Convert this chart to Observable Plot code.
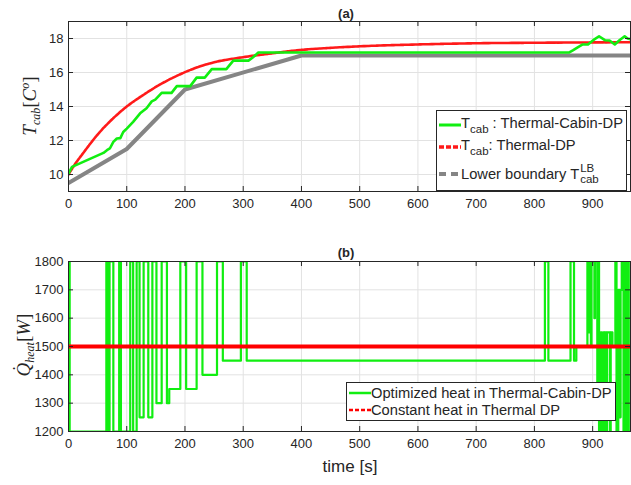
<!DOCTYPE html>
<html><head><meta charset="utf-8">
<script src="https://cdn.jsdelivr.net/npm/d3@7"></script>
<script src="https://cdn.jsdelivr.net/npm/@observablehq/plot@0.6"></script>
<style>
body{margin:0;background:#fff;}
#wrap{position:relative;width:631px;height:485px;overflow:hidden;font-family:"Liberation Sans",Arial,sans-serif;color:#262626;}
.abs{position:absolute;}
.title{font-weight:bold;font-size:13px;transform:translate(-50%,-50%);white-space:nowrap;}
.ylab{font-family:"Liberation Serif","DejaVu Serif",serif;font-size:19px;white-space:nowrap;transform:translate(-50%,-50%) rotate(-90deg);}
.ylab i{font-style:italic;}
.ylab sub{font-size:12px;vertical-align:-4px;}
.ylab sup{font-size:12px;vertical-align:7px;}
.legend{background:#fff;border:1px solid #262626;box-sizing:border-box;}
.row{position:absolute;left:2px;display:flex;align-items:center;white-space:nowrap;font-size:14.7px;color:#262626;}
.row svg{flex:none;}
.row sub{font-size:11.5px;vertical-align:-5px;}
.stack{display:inline-flex;flex-direction:column;font-size:11.5px;line-height:11px;vertical-align:middle;margin-left:1px;}
</style></head>
<body><div id="wrap"></div>
<script>
// ---------- data ----------
const xTicks = [0, 100, 200, 300, 400, 500, 600, 700, 800, 900];
const tempTicks = [10, 12, 14, 16, 18];
const heatTicks = [1200, 1300, 1400, 1500, 1600, 1700, 1800];

// T_cab : Thermal-Cabin-DP (green)
const cabinT = [0, 6, 60, 66, 71, 77, 83, 89, 94, 100, 111, 123, 134, 143, 149, 160, 177, 186, 209, 220, 234, 246, 271, 283, 309, 317, 326, 860, 866, 875, 883, 892, 901, 911, 921, 929, 938, 946, 955, 960, 965];
const cabinV = [10.05, 10.45, 11.27, 11.43, 11.53, 11.92, 12.12, 12.14, 12.5, 12.7, 13.1, 13.6, 13.9, 14.3, 14.4, 14.8, 14.8, 15.2, 15.2, 15.7, 15.7, 16.2, 16.2, 16.7, 16.7, 16.9, 17.18, 17.18, 17.3, 17.49, 17.65, 17.65, 17.9, 18.13, 17.9, 17.88, 17.65, 17.9, 18.13, 18.0, 17.95];

// T_cab : Thermal-DP (red)
const thermT = [0, 10, 25, 50, 75, 100, 125, 150, 175, 200, 225, 250, 300, 350, 400, 450, 500, 600, 700, 800, 900, 965];
const thermV = [10, 10.55, 11.25, 12.35, 13.25, 14.0, 14.6, 15.15, 15.62, 16.02, 16.35, 16.6, 16.9, 17.13, 17.33, 17.45, 17.54, 17.65, 17.72, 17.75, 17.77, 17.78];

// Lower boundary (gray)
const lbT = [0, 100, 200, 400, 965];
const lbV = [9.5, 11.5, 15.0, 17.0, 17.0];

// Optimized heat in Thermal-Cabin-DP (green, step)
const heatT = [0, 2, 65, 66.5, 67.5, 69.5, 70.5, 77, 87, 90, 106, 111, 117, 122, 129, 137, 144, 151, 160, 169, 173, 192, 202, 220, 230, 255, 265, 296, 306, 818, 824, 862, 868, 872, 891, 894, 895, 897, 898, 903, 904, 908, 910, 911, 914, 916, 918, 920, 921, 924, 925, 930, 931, 934, 939, 941, 944, 946, 948, 950, 953, 955, 957, 960, 962, 965];
const heatQ = [1800, 1200, 1800, 1200, 1800, 1200, 1800, 1200, 1800, 1200, 1800, 1200, 1800, 1250, 1800, 1250, 1800, 1300, 1800, 1300, 1350, 1800, 1350, 1800, 1400, 1800, 1450, 1800, 1450, 1800, 1450, 1800, 1450, 1500, 1800, 1550, 1800, 1500, 1800, 1600, 1800, 1350, 1800, 1200, 1550, 1200, 1550, 1200, 1550, 1200, 1550, 1200, 1550, 1500, 1800, 1200, 1700, 1250, 1700, 1800, 1200, 1800, 1200, 1800, 1200, 1200];

// Constant heat in Thermal DP (red)
const constT = [0, 965];
const constQ = [1500, 1500];

// ---------- build ----------
const zip = (a, b) => a.map((t, i) => ({t, v: b[i]}));
const wrap = document.getElementById("wrap");
const W = 631, ML = 68, MR = 1;

function panel({top, height, marginTop, marginBottom, yDomain, yTicks, marks}) {
  const plotH = height - marginTop - marginBottom;
  const plotW = W - ML - MR;
  const tk = 5;
  const svg = Plot.plot({
    width: W, height, marginLeft: ML, marginRight: MR, marginTop, marginBottom,
    style: {fontFamily: "'Liberation Sans', Arial, sans-serif", fontSize: "13px", color: "#262626", background: "transparent", overflow: "visible"},
    x: {domain: [0, 965], ticks: xTicks, label: null},
    y: {domain: yDomain, ticks: yTicks, label: null},
    marks: [
      Plot.gridX(xTicks, {stroke: "#e2e2e2", strokeOpacity: 1, strokeWidth: 1}),
      Plot.gridY(yTicks, {stroke: "#e2e2e2", strokeOpacity: 1, strokeWidth: 1}),
      ...marks,
      Plot.ruleX(xTicks, {x: d => d, insetTop: plotH - tk, stroke: "#262626"}),
      Plot.ruleX(xTicks, {x: d => d, insetBottom: plotH - tk, stroke: "#262626"}),
      Plot.ruleY(yTicks, {y: d => d, insetRight: plotW - tk, stroke: "#262626"}),
      Plot.ruleY(yTicks, {y: d => d, insetLeft: plotW - tk, stroke: "#262626"}),
      Plot.frame({stroke: "#262626", strokeWidth: 1}),
      Plot.axisX(xTicks, {tickSize: 0, tickPadding: 7, fill: "#262626", tickFormat: d => String(d)}),
      Plot.axisY(yTicks, {tickSize: 0, tickPadding: 5, fill: "#262626", tickFormat: d => String(d)})
    ]
  });
  svg.classList.add("abs");
  svg.style.left = "0px";
  svg.style.top = top + "px";
  wrap.appendChild(svg);
}

panel({
  top: 0, height: 215, marginTop: 21, marginBottom: 24,
  yDomain: [9, 19], yTicks: tempTicks,
  marks: [
    Plot.line(zip(lbT, lbV), {x: "t", y: "v", stroke: "#858585", strokeWidth: 4, clip: true}),
    Plot.line(zip(thermT, thermV), {x: "t", y: "v", stroke: "#ff1a1a", strokeWidth: 2.6, strokeDasharray: "3,1", curve: "monotone-x", clip: true}),
    Plot.line(zip(cabinT, cabinV), {x: "t", y: "v", stroke: "#11ee11", strokeWidth: 2.6, clip: true})
  ]
});

panel({
  top: 238, height: 247, marginTop: 23, marginBottom: 54,
  yDomain: [1200, 1800], yTicks: heatTicks,
  marks: [
    Plot.line(zip(heatT, heatQ), {x: "t", y: "v", stroke: "#11ee11", strokeWidth: 2.2, curve: "step-after", clip: true}),
    Plot.line(zip(constT, constQ), {x: "t", y: "v", stroke: "#ff0000", strokeWidth: 4, clip: true})
  ]
});

// ---------- HTML text ----------
function el(html, cls, css) {
  const d = document.createElement("div");
  d.className = "abs " + cls;
  d.innerHTML = html;
  Object.assign(d.style, css);
  wrap.appendChild(d);
  return d;
}
el("(a)", "title", {left: "346px", top: "13px"});
el("(b)", "title", {left: "346px", top: "252px"});
el("<i>T</i><sub><i>cab</i></sub>[<i>C</i><sup><i>o</i></sup>]", "ylab", {left: "31px", top: "106px"});
el("<i>Q&#x307;</i><sub><i>heat</i></sub>[<i>W</i>]", "ylab", {left: "25px", top: "345px"});
el("time [s]", "", {left: "350px", top: "467px", transform: "translate(-50%,-50%)", fontSize: "17px", whiteSpace: "nowrap"});

function sample(color, width, dash) {
  return `<svg width="22" height="10"><line x1="0" x2="22" y1="5" y2="5" stroke="${color}" stroke-width="${width}" ${dash ? `stroke-dasharray="${dash}"` : ""}/></svg>`;
}
const lgA = el("", "legend", {left: "436px", top: "110px", width: "191px", height: "81px"});
function row(parent, top, html) {
  const r = document.createElement("div");
  r.className = "row";
  r.style.top = top + "px";
  r.innerHTML = html;
  parent.appendChild(r);
}
row(lgA, 4, sample("#11ee11", 3) + "<span>T<sub>cab</sub> : Thermal-Cabin-DP</span>");
row(lgA, 26, sample("#ff1a1a", 3.5, "5,2") + "<span>T<sub>cab</sub>: Thermal-DP</span>");
row(lgA, 52, sample("#858585", 4, "7,5") + "<span>Lower boundary T</span><span class='stack'><span>LB</span><span>cab</span></span>");

const lgB = el("", "legend", {left: "346px", top: "382px", width: "270px", height: "39px"});
row(lgB, 2, sample("#11ee11", 2.5) + "<span>Optimized heat in Thermal-Cabin-DP</span>");
row(lgB, 19, sample("#ff0000", 2.5, "4,2") + "<span>Constant heat in Thermal DP</span>");
</script>
</body></html>
